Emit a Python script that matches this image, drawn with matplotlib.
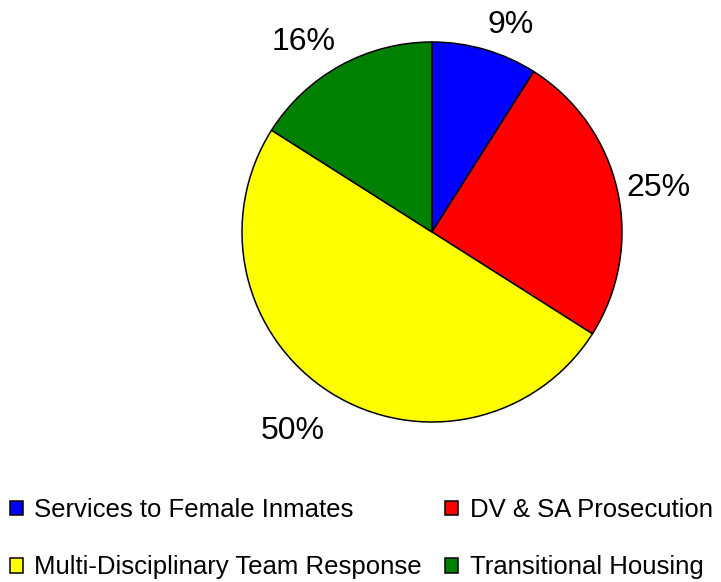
import matplotlib
matplotlib.use('Agg')
import matplotlib.pyplot as plt
import numpy as np

plt.rcParams['font.family'] = ['Liberation Sans', 'DejaVu Sans']

# data
categories = ['Services to Female Inmates', 'DV & SA Prosecution',
              'Multi-Disciplinary Team Response', 'Transitional Housing']
shares = [9, 25, 50, 16]
colors = ['#0000FF', '#FF0000', '#FFFF00', '#008000']

fig = plt.figure(figsize=(7.21, 5.82), dpi=100)
# pie axes: centre (432,232) px, radius 190 px
ax = fig.add_axes([242 / 721, (582 - 422) / 582, 380 / 721, 380 / 582])
wedges, texts, autotexts = ax.pie(
    shares, colors=colors, startangle=90, counterclock=False,
    autopct='%1.0f%%', pctdistance=1.05,
    wedgeprops=dict(edgecolor='black', linewidth=1.1),
    textprops=dict(fontsize=23, color='black'))
ax.set_xlim(-1, 1)
ax.set_ylim(-1, 1)
ax.set_aspect('equal')

# outside-end style labels: anchor the text edge nearest the pie
for w, t in zip(wedges, autotexts):
    ang = np.deg2rad((w.theta1 + w.theta2) / 2)
    c, s = np.cos(ang), np.sin(ang)
    t.set_ha('left' if c > 0.1 else ('right' if c < -0.1 else 'center'))
    if s > 0.5:
        t.set_va('bottom')
    elif s < -0.5:
        t.set_va('top')
        x, y = t.get_position()
        t.set_position((x, y - 0.08))
    else:
        t.set_va('center')

order = [0, 2, 1, 3]  # row-wise legend layout
leg = fig.legend([wedges[i] for i in order], [categories[i] for i in order],
                 ncol=2, loc='upper left',
                 bbox_to_anchor=(10 / 721, 1 - 498 / 582),
                 frameon=False, fontsize=18.5, borderpad=0, borderaxespad=0,
                 handlelength=0.5, handleheight=0.5, handletextpad=0.45,
                 columnspacing=0.9, labelspacing=1.3)

plt.savefig('out.png', dpi=100)
